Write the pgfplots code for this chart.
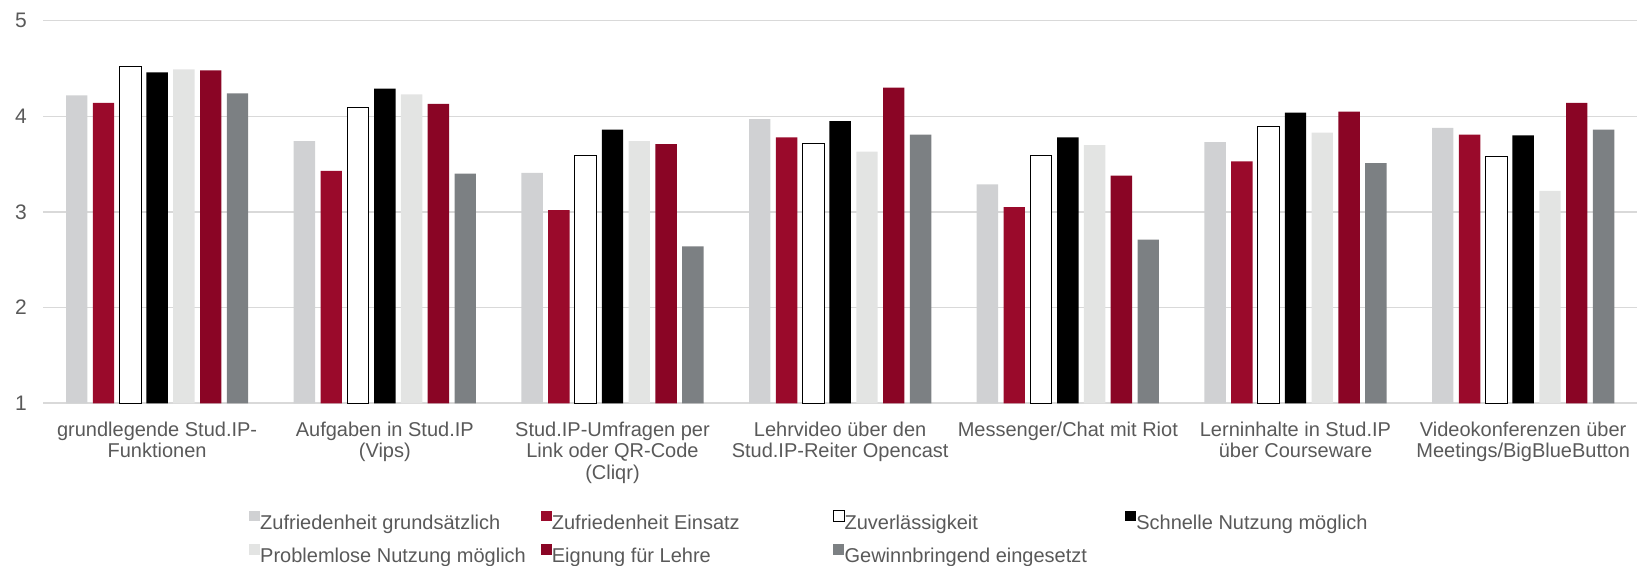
\documentclass[border=0pt]{standalone}
\usepackage{pgfplots}
\pgfplotsset{compat=1.18}
\usepackage{fontspec}
\setmainfont{Liberation Sans}
\definecolor{txt}{HTML}{595959}
\definecolor{gridc}{HTML}{D9D9D9}
\definecolor{cA}{HTML}{D0D1D3}
\definecolor{cB}{HTML}{9A0A2B}
\definecolor{cE}{HTML}{E3E4E3}
\definecolor{cF}{HTML}{8A0525}
\definecolor{cG}{HTML}{7C8083}
\newcommand{\legtxt}[1]{\makebox[138.35pt][l]{\rule[-3pt]{0pt}{10.5pt}#1}}
\begin{document}
\begin{tikzpicture}
\begin{axis}[
  at={(0,0)}, anchor=south west,
  scale only axis, width=796.85pt, height=191.3pt,
  ybar=2.7pt, bar width=10.7pt,
  xmin=-0.5, xmax=6.5, ymin=1, ymax=5,
  xtick={0,...,6}, ytick={1,...,5},
  xticklabels={{grundlegende Stud.IP-\\Funktionen},{Aufgaben in Stud.IP\\(Vips)},{Stud.IP-Umfragen per\\Link oder QR-Code\\(Cliqr)},{Lehrvideo über den\\Stud.IP-Reiter Opencast},{Messenger/Chat mit Riot},{Lerninhalte in Stud.IP\\über Courseware},{Videokonferenzen über\\Meetings/BigBlueButton}},
  axis line style={draw=none},
  major tick length=0pt,
  ymajorgrids, grid style={draw=gridc, line width=0.8pt},
  tick label style={text=txt},
  /pgf/number format/assume math mode=true,
  yticklabel style={font=\fontsize{10.5}{12}\selectfont, anchor=east, inner sep=0pt, xshift=-8pt},
  xticklabel style={font=\fontsize{10}{10.8}\selectfont, align=center, anchor=north, inner sep=0pt, yshift=-9pt},
  legend columns=4,
  legend style={draw=none, fill=none, at={(0,0)}, anchor=north west, xshift=102.85pt, yshift=-53.35pt,
    font=\fontsize{10}{12}\selectfont, text=txt, inner sep=0pt, row sep=6.15pt,
    nodes={inner sep=0pt},
    /tikz/every even column/.append style={column sep=2.1pt},
    /tikz/every odd column/.append style={column sep=0pt}},
  legend cell align=left,
  legend image code/.code={\path[#1] (0pt,0.8pt) rectangle (5.4pt,6.1pt);},
]
\addplot[fill=cA, draw=none] coordinates {(0,4.22) (1,3.74) (2,3.41) (3,3.97) (4,3.29) (5,3.73) (6,3.88)};
\addlegendentry{\legtxt{Zufriedenheit grundsätzlich}}
\addplot[fill=cB, draw=none] coordinates {(0,4.14) (1,3.43) (2,3.02) (3,3.78) (4,3.05) (5,3.53) (6,3.81)};
\addlegendentry{\legtxt{Zufriedenheit Einsatz}}
\addplot[fill=white, draw=black, line width=0.5pt] coordinates {(0,4.52) (1,4.09) (2,3.59) (3,3.72) (4,3.59) (5,3.89) (6,3.58)};
\addlegendentry{\legtxt{Zuverlässigkeit}}
\addplot[fill=black, draw=none] coordinates {(0,4.46) (1,4.29) (2,3.86) (3,3.95) (4,3.78) (5,4.04) (6,3.80)};
\addlegendentry{\legtxt{Schnelle Nutzung möglich}}
\addplot[fill=cE, draw=none] coordinates {(0,4.49) (1,4.23) (2,3.74) (3,3.63) (4,3.70) (5,3.83) (6,3.22)};
\addlegendentry{\legtxt{Problemlose Nutzung möglich}}
\addplot[fill=cF, draw=none] coordinates {(0,4.48) (1,4.13) (2,3.71) (3,4.30) (4,3.38) (5,4.05) (6,4.14)};
\addlegendentry{\legtxt{Eignung für Lehre}}
\addplot[fill=cG, draw=none] coordinates {(0,4.24) (1,3.40) (2,2.64) (3,3.81) (4,2.71) (5,3.51) (6,3.86)};
\addlegendentry{\legtxt{Gewinnbringend eingesetzt}}
\end{axis}
\pgfresetboundingbox
\path (-21.65pt,-81.35pt) rectangle (801.35pt,201.65pt);
\end{tikzpicture}
\end{document}
